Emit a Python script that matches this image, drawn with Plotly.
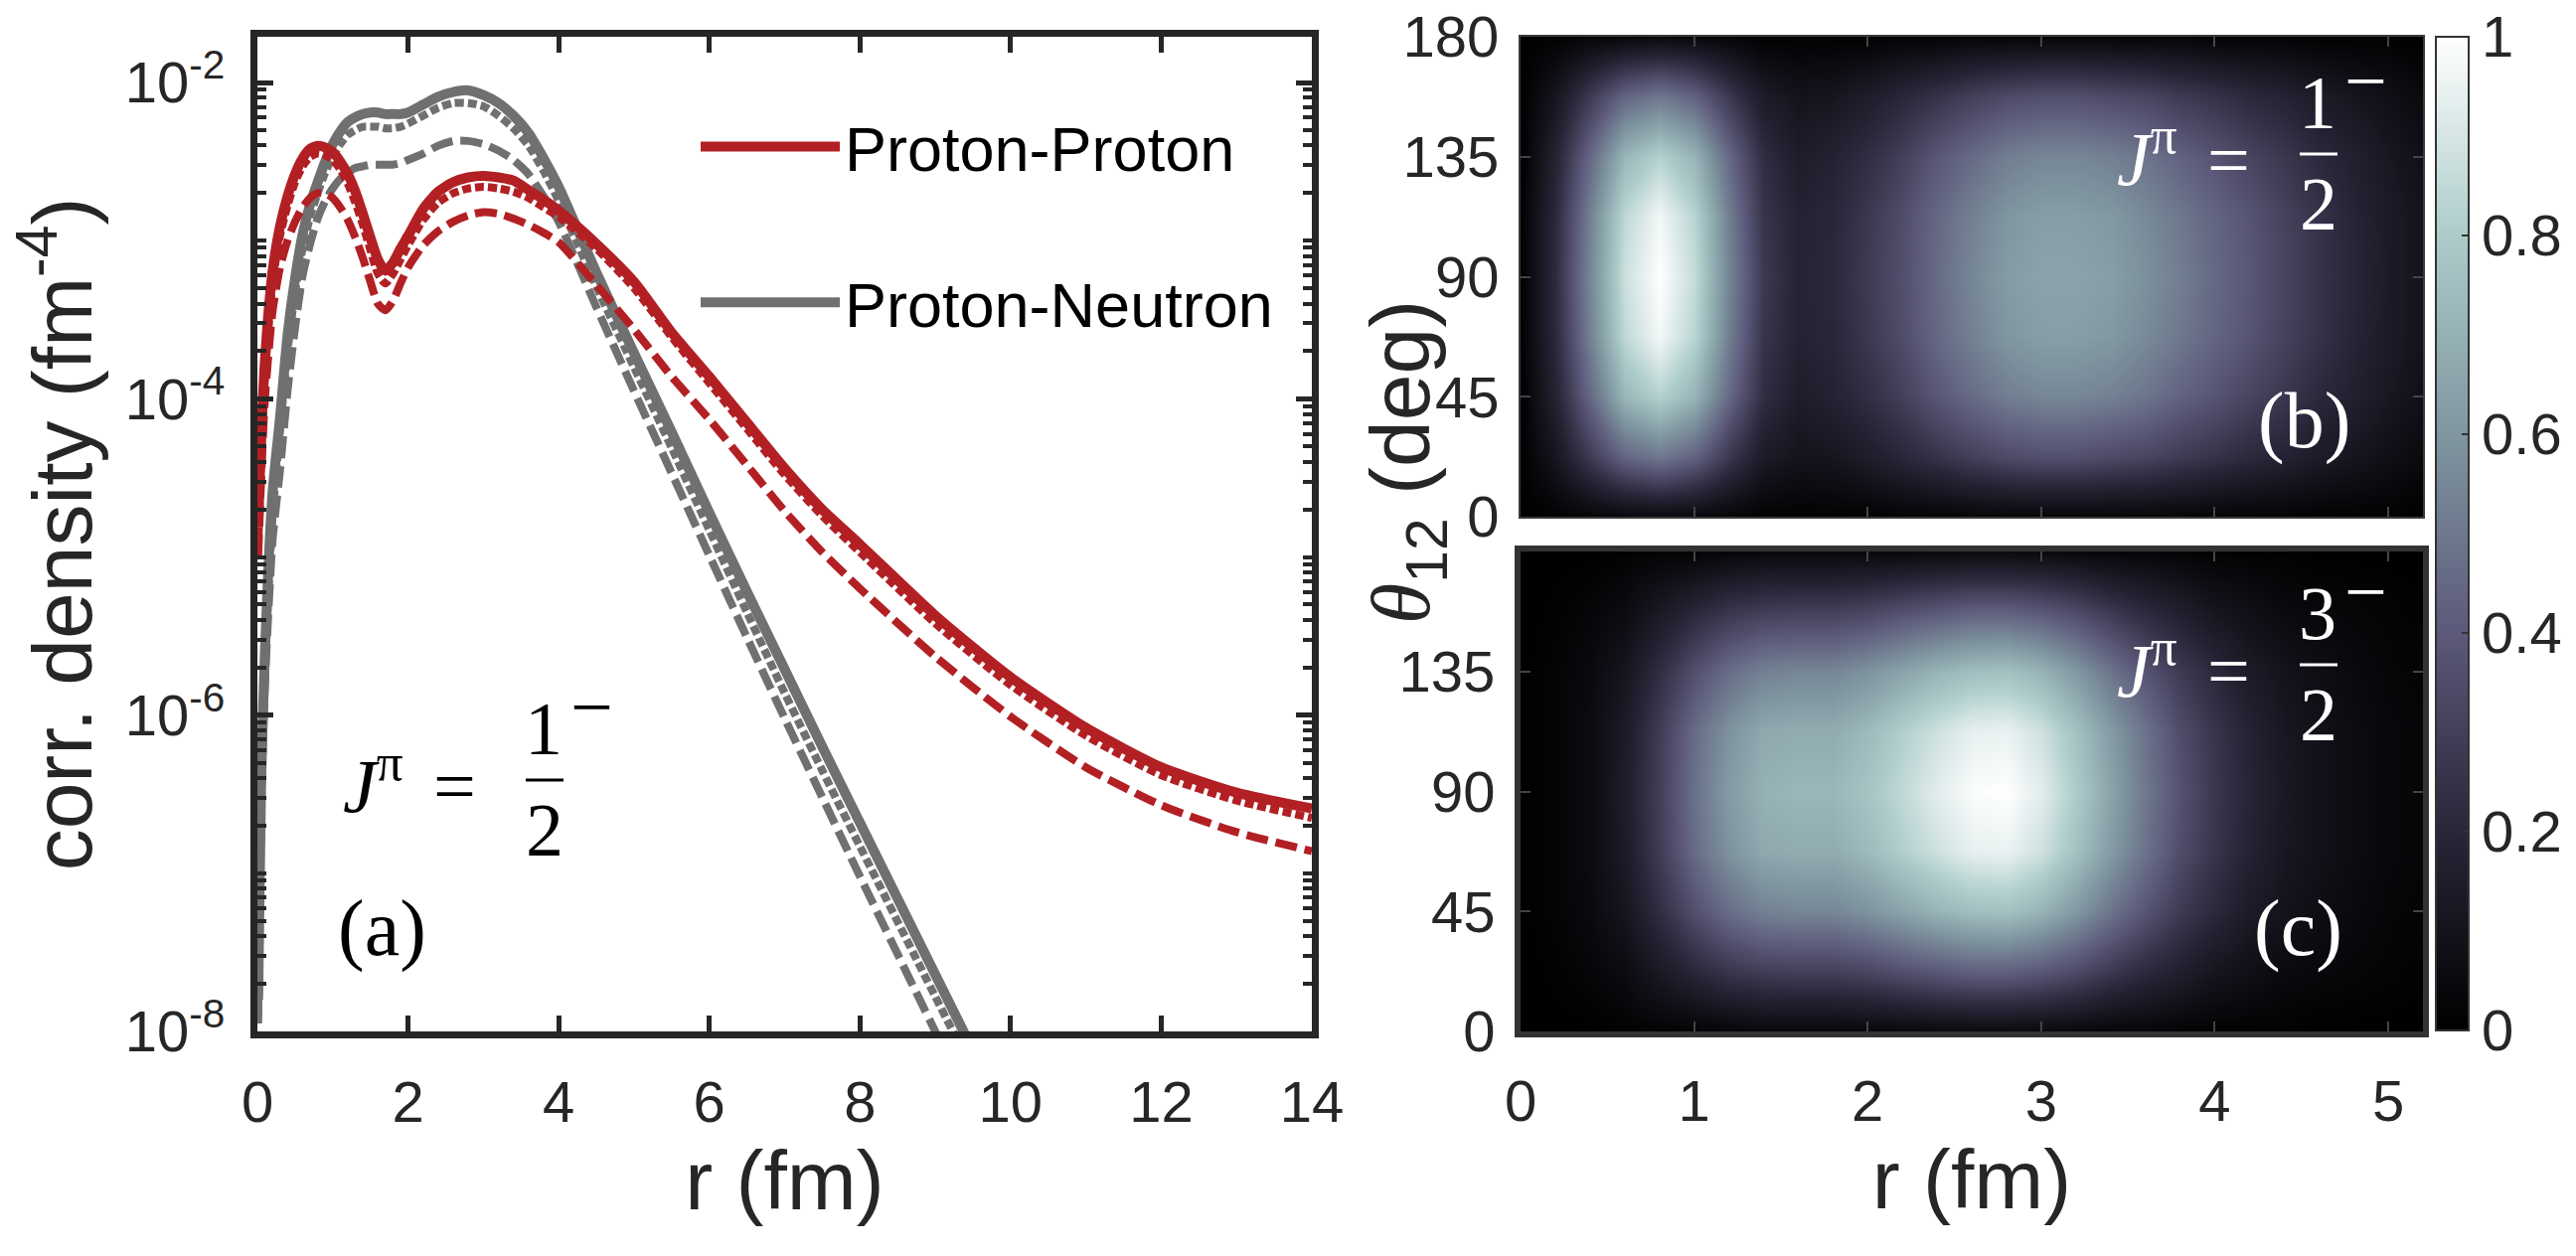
import plotly.graph_objects as go

# ---------------- panel (a): correlation densities ----------------
r_pp = [0.01, 0.05, 0.1, 0.2, 0.3, 0.4, 0.5, 0.6, 0.7, 0.8, 0.9, 1.0, 1.1, 1.2, 1.3, 1.4, 1.5,
        1.6, 1.7, 1.8, 1.9, 2.0, 2.2, 2.4, 2.6, 2.8, 3.0, 3.2, 3.4, 3.6, 3.8, 4.0, 4.5, 5.0,
        5.5, 6.0, 6.5, 7.0, 7.5, 8.0, 9.0, 10.0, 11.0, 12.0, 13.0, 14.0]
pp_full = [1.585e-5, 5.623e-5, 1.738e-4, 6.310e-4, 1.230e-3, 1.905e-3, 2.630e-3, 3.311e-3,
           3.802e-3, 3.981e-3, 3.890e-3, 3.631e-3, 3.162e-3, 2.630e-3, 2.042e-3, 1.479e-3,
           1.047e-3, 7.586e-4, 6.457e-4, 7.244e-4, 8.913e-4, 1.072e-3, 1.585e-3, 2.042e-3,
           2.344e-3, 2.512e-3, 2.570e-3, 2.512e-3, 2.399e-3, 2.089e-3, 1.820e-3, 1.549e-3,
           9.550e-4, 5.495e-4, 2.630e-4, 1.380e-4, 7.079e-5, 3.631e-5, 1.995e-5, 1.202e-5,
           4.266e-6, 1.738e-6, 8.318e-7, 4.677e-7, 3.236e-7, 2.570e-7]
pp_dot = [1.122e-5, 4.467e-5, 1.413e-4, 5.370e-4, 1.072e-3, 1.660e-3, 2.344e-3, 2.951e-3,
          3.388e-3, 3.548e-3, 3.467e-3, 3.236e-3, 2.818e-3, 2.291e-3, 1.738e-3, 1.259e-3,
          8.710e-4, 6.166e-4, 5.370e-4, 6.166e-4, 7.586e-4, 9.333e-4, 1.349e-3, 1.738e-3,
          1.995e-3, 2.138e-3, 2.188e-3, 2.138e-3, 2.042e-3, 1.862e-3, 1.622e-3, 1.413e-3,
          8.913e-4, 5.012e-4, 2.455e-4, 1.259e-4, 6.457e-5, 3.311e-5, 1.820e-5, 1.072e-5,
          3.802e-6, 1.549e-6, 7.413e-7, 4.169e-7, 2.884e-7, 2.239e-7]
pp_dash = [1.000e-5, 3.162e-5, 1.000e-4, 3.548e-4, 6.761e-4, 1.000e-3, 1.318e-3, 1.622e-3,
           1.862e-3, 1.995e-3, 1.995e-3, 1.862e-3, 1.622e-3, 1.349e-3, 1.047e-3, 7.762e-4,
           5.495e-4, 3.981e-4, 3.631e-4, 4.169e-4, 5.370e-4, 6.761e-4, 9.333e-4, 1.148e-3,
           1.318e-3, 1.445e-3, 1.514e-3, 1.479e-3, 1.380e-3, 1.259e-3, 1.122e-3, 9.772e-4,
           5.248e-4, 2.754e-4, 1.380e-4, 7.413e-5, 3.802e-5, 1.950e-5, 1.072e-5, 6.310e-6,
           2.344e-6, 9.772e-7, 4.677e-7, 2.692e-7, 1.820e-7, 1.380e-7]

r_pn = [0.01, 0.05, 0.1, 0.2, 0.3, 0.4, 0.5, 0.6, 0.7, 0.8, 0.9, 1.0, 1.1, 1.2, 1.3, 1.4, 1.5,
        1.6, 1.7, 1.8, 1.9, 2.0, 2.2, 2.4, 2.6, 2.8, 3.0, 3.2, 3.4, 3.6, 3.8, 4.0, 4.5, 5.0,
        5.5, 6.0, 6.5, 7.0, 7.5, 8.0, 9.0, 10.0]
pn_full = [1.585e-8, 3.981e-7, 2.512e-6, 2.512e-5, 7.586e-5, 2.512e-4, 5.754e-4, 1.096e-3,
           1.698e-3, 2.344e-3, 3.162e-3, 4.074e-3, 4.898e-3, 5.623e-3, 6.026e-3, 6.310e-3,
           6.457e-3, 6.457e-3, 6.310e-3, 6.310e-3, 6.310e-3, 6.457e-3, 7.244e-3, 8.128e-3,
           8.710e-3, 8.913e-3, 8.318e-3, 7.413e-3, 6.166e-3, 4.786e-3, 3.311e-3, 2.188e-3,
           6.310e-4, 1.950e-4, 6.166e-5, 1.905e-5, 6.026e-6, 1.950e-6, 6.310e-7, 2.089e-7,
           2.291e-8, 2.512e-9]
pn_dot = [1.259e-8, 3.162e-7, 1.995e-6, 1.778e-5, 6.310e-5, 1.995e-4, 4.677e-4, 8.913e-4,
          1.413e-3, 1.995e-3, 2.692e-3, 3.388e-3, 4.074e-3, 4.677e-3, 5.012e-3, 5.248e-3,
          5.248e-3, 5.248e-3, 5.129e-3, 5.129e-3, 5.248e-3, 5.495e-3, 6.166e-3, 6.918e-3,
          7.413e-3, 7.413e-3, 7.079e-3, 6.166e-3, 5.129e-3, 3.981e-3, 2.754e-3, 1.778e-3,
          5.129e-4, 1.585e-4, 4.898e-5, 1.479e-5, 4.467e-6, 1.380e-6, 4.467e-7, 1.479e-7,
          1.660e-8, 1.905e-9]
pn_dash = [1.122e-8, 2.512e-7, 1.585e-6, 1.259e-5, 3.548e-5, 1.122e-4, 2.818e-4, 6.026e-4,
           9.550e-4, 1.380e-3, 1.778e-3, 2.138e-3, 2.455e-3, 2.692e-3, 2.884e-3, 2.951e-3,
           3.020e-3, 3.020e-3, 3.020e-3, 3.020e-3, 3.090e-3, 3.236e-3, 3.548e-3, 3.981e-3,
           4.266e-3, 4.266e-3, 4.074e-3, 3.715e-3, 3.236e-3, 2.630e-3, 1.905e-3, 1.318e-3,
           3.802e-4, 1.122e-4, 3.388e-5, 1.023e-5, 3.090e-6, 9.550e-7, 3.020e-7, 9.550e-8,
           1.000e-8, 1.072e-9]

# ---------------- panels (b), (c): normalised densities (rows: theta, cols: r) ----------------
r_grid = [0.0, 0.2, 0.4, 0.6, 0.8, 1.0, 1.2, 1.4, 1.6, 1.8, 2.0, 2.2, 2.4, 2.6, 2.8, 3.0,
          3.2, 3.4, 3.6, 3.8, 4.0, 4.2, 4.4, 4.6, 4.8, 5.0, 5.2]
theta_grid = [0, 22.5, 45, 67.5, 90, 112.5, 135, 157.5, 180]
dens_b = [
    [0, 0.01, 0.03, 0.04, 0.05, 0.04, 0.03, 0.01, 0.01, 0.01, 0.01, 0.02, 0.02, 0.03, 0.03, 0.03, 0.03, 0.03, 0.03, 0.03, 0.02, 0.02, 0.02, 0.01, 0.01, 0.01, 0],
    [0, 0.11, 0.28, 0.44, 0.50, 0.43, 0.27, 0.14, 0.10, 0.11, 0.15, 0.20, 0.25, 0.30, 0.34, 0.36, 0.36, 0.34, 0.32, 0.28, 0.25, 0.21, 0.18, 0.14, 0.11, 0.08, 0.05],
    [0, 0.18, 0.45, 0.72, 0.82, 0.71, 0.45, 0.23, 0.15, 0.18, 0.23, 0.30, 0.39, 0.46, 0.52, 0.55, 0.55, 0.53, 0.49, 0.43, 0.38, 0.32, 0.27, 0.21, 0.17, 0.12, 0.08],
    [0, 0.21, 0.53, 0.85, 0.97, 0.83, 0.52, 0.26, 0.18, 0.20, 0.27, 0.35, 0.45, 0.53, 0.60, 0.63, 0.63, 0.61, 0.56, 0.50, 0.44, 0.38, 0.31, 0.25, 0.19, 0.14, 0.10],
    [0, 0.22, 0.55, 0.88, 1.00, 0.86, 0.54, 0.28, 0.18, 0.21, 0.28, 0.36, 0.46, 0.55, 0.62, 0.65, 0.65, 0.63, 0.58, 0.52, 0.45, 0.39, 0.32, 0.25, 0.20, 0.14, 0.10],
    [0, 0.21, 0.53, 0.85, 0.97, 0.83, 0.52, 0.26, 0.18, 0.20, 0.27, 0.35, 0.45, 0.53, 0.60, 0.63, 0.63, 0.61, 0.56, 0.50, 0.44, 0.38, 0.31, 0.25, 0.19, 0.14, 0.10],
    [0, 0.18, 0.45, 0.72, 0.82, 0.71, 0.45, 0.23, 0.15, 0.18, 0.23, 0.30, 0.39, 0.46, 0.52, 0.55, 0.55, 0.53, 0.49, 0.43, 0.38, 0.32, 0.27, 0.21, 0.17, 0.12, 0.08],
    [0, 0.11, 0.28, 0.44, 0.50, 0.43, 0.27, 0.14, 0.10, 0.11, 0.15, 0.20, 0.25, 0.30, 0.34, 0.36, 0.36, 0.34, 0.32, 0.28, 0.25, 0.21, 0.18, 0.14, 0.11, 0.08, 0.05],
    [0, 0.01, 0.03, 0.04, 0.05, 0.04, 0.03, 0.01, 0.01, 0.01, 0.01, 0.02, 0.02, 0.03, 0.03, 0.03, 0.03, 0.03, 0.03, 0.03, 0.02, 0.02, 0.02, 0.01, 0.01, 0.01, 0],
]
dens_c = [
    [0, 0, 0, 0.01, 0.02, 0.02, 0.03, 0.04, 0.04, 0.04, 0.04, 0.04, 0.05, 0.05, 0.05, 0.05, 0.04, 0.03, 0.03, 0.02, 0.01, 0.01, 0.01, 0, 0, 0, 0],
    [0, 0.01, 0.03, 0.06, 0.13, 0.20, 0.26, 0.29, 0.30, 0.30, 0.32, 0.36, 0.39, 0.42, 0.42, 0.39, 0.34, 0.27, 0.21, 0.16, 0.11, 0.08, 0.05, 0.04, 0.03, 0.02, 0.01],
    [0, 0.02, 0.05, 0.11, 0.23, 0.36, 0.47, 0.53, 0.55, 0.55, 0.59, 0.65, 0.71, 0.75, 0.76, 0.71, 0.61, 0.49, 0.38, 0.28, 0.21, 0.14, 0.10, 0.07, 0.05, 0.03, 0.02],
    [0, 0.02, 0.06, 0.14, 0.29, 0.46, 0.59, 0.67, 0.68, 0.68, 0.73, 0.81, 0.88, 0.94, 0.95, 0.88, 0.76, 0.62, 0.48, 0.35, 0.26, 0.18, 0.12, 0.09, 0.06, 0.04, 0.03],
    [0, 0.02, 0.06, 0.15, 0.30, 0.48, 0.62, 0.70, 0.72, 0.72, 0.77, 0.85, 0.93, 0.99, 1.00, 0.93, 0.80, 0.65, 0.50, 0.37, 0.27, 0.19, 0.13, 0.09, 0.06, 0.04, 0.03],
    [0, 0.02, 0.06, 0.14, 0.29, 0.46, 0.59, 0.67, 0.68, 0.68, 0.73, 0.81, 0.88, 0.94, 0.95, 0.88, 0.76, 0.62, 0.48, 0.35, 0.26, 0.18, 0.12, 0.09, 0.06, 0.04, 0.03],
    [0, 0.02, 0.05, 0.11, 0.23, 0.36, 0.47, 0.53, 0.55, 0.55, 0.59, 0.65, 0.71, 0.75, 0.76, 0.71, 0.61, 0.49, 0.38, 0.28, 0.21, 0.14, 0.10, 0.07, 0.05, 0.03, 0.02],
    [0, 0.01, 0.03, 0.06, 0.13, 0.20, 0.26, 0.29, 0.30, 0.30, 0.32, 0.36, 0.39, 0.42, 0.42, 0.39, 0.34, 0.27, 0.21, 0.16, 0.11, 0.08, 0.05, 0.04, 0.03, 0.02, 0.01],
    [0, 0, 0, 0.01, 0.02, 0.02, 0.03, 0.04, 0.04, 0.04, 0.04, 0.04, 0.05, 0.05, 0.05, 0.05, 0.04, 0.03, 0.03, 0.02, 0.01, 0.01, 0.01, 0, 0, 0, 0],
]

# ---------------- ticks ----------------
x_ticks_a = [0, 2, 4, 6, 8, 10, 12, 14]
y_ticks_a = [1e-8, 1e-6, 1e-4, 1e-2]
y_ticktext_a = ["10<sup>-8</sup>", "10<sup>-6</sup>", "10<sup>-4</sup>", "10<sup>-2</sup>"]
y_minor_a = [m * 10.0 ** e for e in range(-8, -1) for m in range(1, 10)
             if not (m == 1 and e % 2 == 0)]
r_ticks_bc = [0, 1, 2, 3, 4, 5]
theta_ticks_b = [0, 45, 90, 135, 180]
theta_ticks_c = [0, 45, 90, 135]
cbar_ticks = [0, 0.2, 0.4, 0.6, 0.8, 1]
cbar_ticktext = ["0", "0.2", "0.4", "0.6", "0.8", "1"]

RED = "rgb(178,32,36)"
GRAY = "rgb(112,112,112)"
INK = "#262626"
SANS = "Liberation Sans, Arial, sans-serif"
SERIF = "Liberation Serif, Times New Roman, serif"
W, H = 2592, 1264

bone = [[0.0, "rgb(0,0,0)"], [0.2, "rgb(40,38,56)"], [0.4, "rgb(92,89,122)"],
        [0.6, "rgb(127,150,160)"], [0.8, "rgb(172,204,202)"], [1.0, "rgb(255,255,255)"]]

fig = go.Figure()

DOT = "9px,4px"
DASH = "22px,8px"
for yv, dash, wdt, show in [(pn_full, "solid", 10, True), (pn_dot, DOT, 8, False), (pn_dash, DASH, 8, False)]:
    fig.add_trace(go.Scatter(x=r_pn, y=yv, mode="lines",
                             line=dict(color=GRAY, width=wdt, dash=dash, shape="spline", smoothing=0.6),
                             name="Proton-Neutron", showlegend=show, legendgroup="pn", legendrank=2,
                             xaxis="x", yaxis="y", hoverinfo="skip"))
for yv, dash, wdt, show in [(pp_full, "solid", 10, True), (pp_dot, DOT, 8, False), (pp_dash, DASH, 8, False)]:
    fig.add_trace(go.Scatter(x=r_pp, y=yv, mode="lines",
                             line=dict(color=RED, width=wdt, dash=dash, shape="spline", smoothing=0.6),
                             name="Proton-Proton", showlegend=show, legendgroup="pp", legendrank=1,
                             xaxis="x", yaxis="y", hoverinfo="skip"))

fig.add_trace(go.Heatmap(x=r_grid, y=theta_grid, z=dens_b, coloraxis="coloraxis", zsmooth="best",
                         xaxis="x2", yaxis="y2", hoverinfo="skip"))
fig.add_trace(go.Heatmap(x=r_grid, y=theta_grid, z=dens_c, coloraxis="coloraxis", zsmooth="best",
                         xaxis="x3", yaxis="y3", hoverinfo="skip"))


def px_x(v):
    return v / W


def px_y(v):
    return 1 - v / H


tickfont = dict(family=SANS, size=58, color=INK)
titlefont = dict(family=SANS, size=84, color=INK)

common = dict(showgrid=False, zeroline=False, automargin=False)

fig.update_layout(
    template="none",
    width=W, height=H, margin=dict(l=0, r=0, t=0, b=0, pad=0, autoexpand=False),
    paper_bgcolor="white", plot_bgcolor="white",
    font=dict(family=SANS, color=INK),
    showlegend=True,
    legend=dict(x=px_x(700), y=px_y(100), xanchor="left", yanchor="top",
                font=dict(family=SANS, size=63, color="black"), bgcolor="rgba(0,0,0,0)",
                borderwidth=0, traceorder="grouped", tracegroupgap=72, itemwidth=140),
    xaxis=dict(domain=[px_x(259), px_x(1320)], anchor="y", range=[0, 14], tickvals=x_ticks_a,
               ticks="inside", ticklen=16, tickwidth=5, tickcolor=INK, showline=True, linewidth=7,
               linecolor=INK, mirror="ticks", tickfont=tickfont, ticklabelstandoff=14,
               title=dict(text="r (fm)", font=titlefont, standoff=18), **common),
    yaxis=dict(domain=[px_y(1038), px_y(37)], anchor="x", type="log", range=[-8, -1.711],
               tickmode="array", tickvals=y_ticks_a, ticktext=y_ticktext_a,
               ticks="inside", ticklen=16, tickwidth=5, tickcolor=INK, showline=True, linewidth=7,
               linecolor=INK, mirror="ticks", tickfont=tickfont, ticklabelstandoff=14,
               minor=dict(tickmode="array", tickvals=y_minor_a, ticks="inside", ticklen=9,
                          tickwidth=4, tickcolor=INK, showgrid=False),
               title=dict(text="corr. density (fm<sup>-4</sup>)", font=titlefont, standoff=8),
               **common),
    xaxis2=dict(domain=[px_x(1530), px_x(2438)], anchor="y2", range=[0, 5.2], tickvals=r_ticks_bc,
                showticklabels=False, ticks="inside", ticklen=10, tickwidth=2, tickcolor="#444",
                showline=True, linewidth=2, linecolor="#3a3a3a", mirror="ticks", **common),
    yaxis2=dict(domain=[px_y(520), px_y(37)], anchor="x2", range=[0, 180], tickvals=theta_ticks_b,
                ticks="inside", ticklen=10, tickwidth=2, tickcolor="#444", showline=True, linewidth=2,
                linecolor="#3a3a3a", mirror="ticks", tickfont=tickfont, ticklabelstandoff=8,
                **common),
    xaxis3=dict(domain=[px_x(1530), px_x(2438)], anchor="y3", range=[0, 5.2], tickvals=r_ticks_bc,
                ticks="inside", ticklen=10, tickwidth=2, tickcolor="#444", showline=True, linewidth=6,
                linecolor="#333333", mirror="ticks", tickfont=tickfont, ticklabelstandoff=14,
                title=dict(text="r (fm)", font=titlefont, standoff=18), **common),
    yaxis3=dict(domain=[px_y(1038), px_y(555)], anchor="x3", range=[0, 180], tickvals=theta_ticks_c,
                ticks="inside", ticklen=10, tickwidth=2, tickcolor="#444", showline=True, linewidth=6,
                linecolor="#333333", mirror="ticks", tickfont=tickfont, ticklabelstandoff=8,
                **common),
    coloraxis=dict(colorscale=bone, cmin=0, cmax=1,
                   colorbar=dict(x=px_x(2451), xanchor="left", y=px_y(1037), yanchor="bottom",
                                 len=1000 / H, lenmode="fraction", thickness=33,
                                 thicknessmode="pixels", xpad=0, ypad=0, outlinewidth=2,
                                 outlinecolor="#333", ticks="inside", ticklen=8, tickwidth=2,
                                 tickcolor="#333", tickvals=cbar_ticks, ticktext=cbar_ticktext,
                                 tickfont=tickfont)),
)

# theta_12 label shared by (b) and (c)
fig.add_annotation(x=px_x(1415), y=px_y(465), xref="paper", yref="paper", textangle=-90,
                   text="<span style='font-family:Liberation Serif'><i>θ</i></span><sub>12</sub> (deg)",
                   font=titlefont, showarrow=False, xanchor="center", yanchor="middle")


def jpi(xj, yc, num, color, size=76):
    # J^pi = num/2 ^-  (yc: y of the fraction bar, in px)
    fig.add_annotation(x=px_x(xj), y=px_y(yc), xref="paper", yref="paper", showarrow=False,
                       text="<i>J</i><sup>π</sup>", font=dict(family=SERIF, size=size, color=color),
                       xanchor="center", yanchor="middle")
    fig.add_annotation(x=px_x(xj + 82), y=px_y(yc + 6), xref="paper", yref="paper", showarrow=False,
                       text="=", font=dict(family=SERIF, size=size, color=color),
                       xanchor="center", yanchor="middle")
    fig.add_annotation(x=px_x(xj + 172), y=px_y(yc - 52), xref="paper", yref="paper", showarrow=False,
                       text=num, font=dict(family=SERIF, size=size, color=color),
                       xanchor="center", yanchor="middle")
    fig.add_annotation(x=px_x(xj + 173), y=px_y(yc + 50), xref="paper", yref="paper", showarrow=False,
                       text="2", font=dict(family=SERIF, size=size, color=color),
                       xanchor="center", yanchor="middle")
    fig.add_annotation(x=px_x(xj + 220), y=px_y(yc - 74), xref="paper", yref="paper", showarrow=False,
                       text="−", font=dict(family=SERIF, size=size, color=color),
                       xanchor="center", yanchor="middle")
    fig.add_shape(type="line", xref="paper", yref="paper", x0=px_x(xj + 154), x1=px_x(xj + 192),
                  y0=px_y(yc), y1=px_y(yc), line=dict(color=color, width=3))


jpi(375, 785, "1", "black")
jpi(2160, 155, "1", "white")
jpi(2160, 669, "3", "white")

for xa, ya, txt, col in [(384, 935, "(a)", "black"), (2318, 423, "(b)", "white"),
                         (2312, 935, "(c)", "white")]:
    fig.add_annotation(x=px_x(xa), y=px_y(ya), xref="paper", yref="paper", showarrow=False,
                       text=txt, font=dict(family=SERIF, size=80, color=col),
                       xanchor="center", yanchor="middle")

fig.write_html("out.html", config={"displayModeBar": False},
               post_script="document.body.style.margin='0px';")
